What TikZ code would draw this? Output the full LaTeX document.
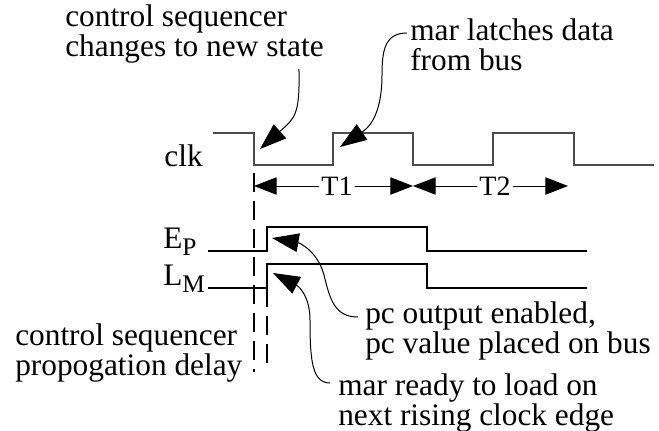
\documentclass[tikz,border=0pt]{standalone}
\usepackage{fontspec}
\setmainfont{Liberation Serif}
\usetikzlibrary{arrows.meta}
\newcommand{\lowsub}[1]{\raisebox{-5pt}{\fontsize{19}{19}\selectfont #1}}
\begin{document}
\begin{tikzpicture}[x=0.75pt,y=-0.75pt,
  note/.style={font=\fontsize{23.5}{22.5}\selectfont,inner sep=0pt,align=left,anchor=north west},
  tlabel/.style={font=\fontsize{21}{21}\selectfont,inner sep=1.5pt},
  sig/.style={line width=0.9pt},
  clock/.style={line width=1.2pt,draw=black!70},
  delay/.style={line width=0.9pt,dash pattern=on 14pt off 7pt},
  span/.style={line width=0.75pt,-{Triangle[length=17pt,width=13pt]}},
  pointer/.style={line width=0.75pt,-{Triangle[length=20pt,width=14pt]}}]
\useasboundingbox (0,0) rectangle (659,431);

% clock
\node[note,anchor=north east] (clk) at (203,144) {clk};
\draw[clock] (213,133) -- (254,133) -- (254,165) -- (333,165) -- (333,133) -- (413,133) -- (413,165) -- (493,165) -- (493,133) -- (574,133) -- (574,165) -- (654,165);

% T states
\coordinate (t1a) at (254,186);
\coordinate (t1b) at (413,186);
\coordinate (t2b) at (568,186);
\node[tlabel] (t1) at (337,186) {T1};
\node[tlabel] (t2) at (495,186) {T2};
\draw[span] (t1) -- (t1a);
\draw[span] (t1) -- (t1b);
\draw[span] (t2) -- (t1b);
\draw[span] (t2) -- (t2b);

% delay lines
\draw[delay] (254,173) -- (254,372);
\draw[delay] (267,288) -- (267,372);

% control signals
\node[note] (ep) at (163,228) {E\lowsub{P}};
\node[note] (lm) at (163,265) {L\lowsub{M}};
\draw[sig] (208,251) -- (267,251) -- (267,227) -- (427,227) -- (427,251) -- (587,251);
\draw[sig] (208,288) -- (267,288) -- (267,264) -- (427,264) -- (427,288) -- (587,288);

% notes
\node[note] (chg) at (65,4) {control sequencer\\changes to new state};
\node[note] (latch) at (410,18) {mar latches data\\from bus};
\node[note] (prop) at (15,323) {control sequencer\\propogation delay};
\node[note] (pcout) at (365,301) {pc output enabled,\\pc value placed on bus};
\node[note] (ready) at (338,373) {mar ready to load on\\next rising clock edge};

\coordinate (fall) at (260,149);
\coordinate (rise) at (340,147);
\coordinate (epup) at (272,238);
\coordinate (lmup) at (273,273);

\draw[pointer] ([shift={(-25,6)}]chg.south east) .. controls (300,115) and (295,118) .. (fall);
\draw[pointer] ([shift={(-3,15)}]latch.north west) .. controls (385,33) and (382,50) .. (382,75) .. controls (382,120) and (365,130) .. (rise);
\draw[pointer] ([shift={(-7,16)}]pcout.north west) .. controls (335,317) and (330,300) .. (324,275) .. controls (318,252) and (300,243) .. (epup);
\draw[pointer] ([shift={(-8,10)}]ready.north west) .. controls (312,383) and (310,360) .. (310,320) .. controls (310,298) and (300,287) .. (lmup);

\end{tikzpicture}
\end{document}
